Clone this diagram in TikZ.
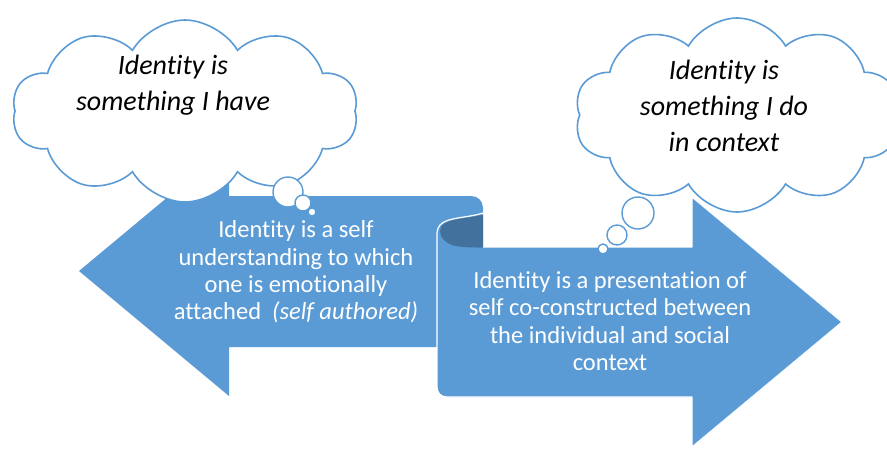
\documentclass[tikz,border=0pt]{standalone}
\usepackage{fontspec}
\setmainfont{Carlito}[Ligatures={TeX,NoCommon}]
\usetikzlibrary{shapes.symbols}
\definecolor{ablue}{HTML}{5B9BD5}
\definecolor{dblue}{HTML}{41719C}
\tikzset{
  arrowbody/.style={fill=ablue, draw=white, line width=1.2pt, line join=round},
  thought/.style={cloud, cloud puffs=10, cloud puff arc=120, cloud ignores aspect, draw=ablue, fill=white, line width=1.6pt, inner sep=0pt},
  bubble/.style={circle, draw=ablue, fill=white, line width=1.4pt, inner sep=0pt},
  arrowtext/.style={text=white, align=center, font=\fontsize{24.5}{27.3}\selectfont},
  cloudtext/.style={text=black, align=center, font=\fontsize{28}{36}\selectfont\itshape},
}
\begin{document}
\begin{tikzpicture}[x=1pt, y=-1pt]
\useasboundingbox (0,0) rectangle (887,448);
% left arrow
\path[arrowbody, draw=none] (79,271) -- (229,146) -- (229,196) -- (471,196)
  .. controls (478,196) and (483,201) .. (483,208) -- (483,347) -- (229,347) -- (229,396) -- cycle;
% right arrow (scroll)
\path[arrowbody] (483,213) .. controls (468,218) and (447,217) .. (440,225)
  .. controls (437,229) and (437,232) .. (437,236) -- (437,387)
  .. controls (437,393) and (441,397) .. (447,397) -- (692,397) -- (692,447)
  -- (842,322) -- (692,197) -- (692,247) -- (483,247) -- cycle;
% roll interior
\fill[dblue] (483,214.5) .. controls (468,219) and (448,218) .. (441.5,226)
  .. controls (438,232) and (441,241) .. (452,245) .. controls (460,247.5) and (470,247.5) .. (483,247.5) -- cycle;
% texts on arrows
\node[arrowtext] (lt) at (296,272) {Identity is a self\\understanding to which\\one is emotionally\\attached~~\textit{(self authored)}};
\node[arrowtext] (rt) at (610,321) {Identity is a presentation of\\self co-constructed between\\the individual and social\\context};
% left cloud
\node[thought, minimum width=346pt, minimum height=182pt] (c1) at (185,111) {};
\node[bubble, minimum size=30pt] (b1a) at (288,192) {};
\node[bubble, minimum size=16pt] (b1b) at (303,203) {};
\node[bubble, minimum size=8pt] (b1c) at (312,212) {};
\node[cloudtext] (t1) at (173,85) {Identity is\\something I have};
% right cloud
\node[thought, minimum width=325pt, minimum height=194pt] (c2) at (737,115) {};
\node[bubble, minimum size=32pt] (b2a) at (638,213) {};
\node[bubble, minimum size=20pt] (b2b) at (617,235) {};
\node[bubble, minimum size=10pt] (b2c) at (603,249) {};
\node[cloudtext] (t2) at (724,106) {Identity is\\something I do\\in context};
\end{tikzpicture}
\end{document}
